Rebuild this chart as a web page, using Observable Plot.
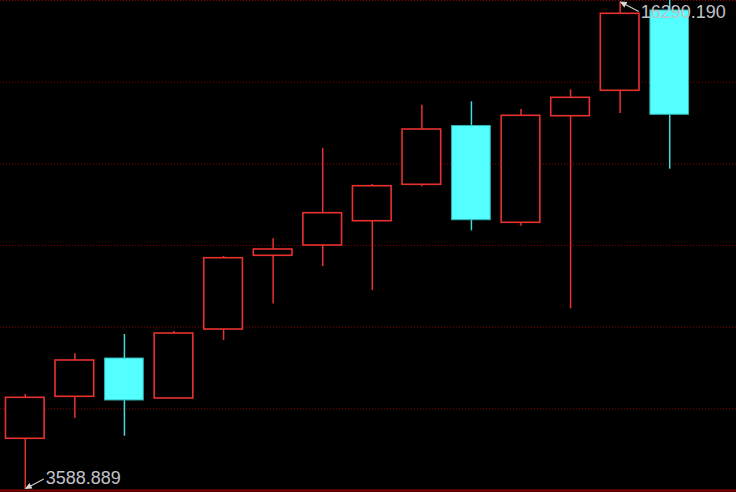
<!DOCTYPE html>
<html>
<head>
<meta charset="utf-8">
<script src="https://cdn.jsdelivr.net/npm/d3@7"></script>
<script src="https://cdn.jsdelivr.net/npm/@observablehq/plot@0.6"></script>
<style>
  html, body { margin: 0; padding: 0; background: #000; overflow: hidden; }
  #chart svg { display: block; }
</style>
</head>
<body>
<div id="chart"></div>
<script>
// ---- data ----
const periods = [1, 2, 3, 4, 5, 6, 7, 8, 9, 10, 11, 12, 13, 14];
const open  = [4910, 6004, 7002, 5960, 7757, 9678, 9946, 10579, 11528, 13060, 10538, 13315, 13977, 16069];
const close = [5978, 6950, 5908, 7653, 9615, 9842, 10788, 11491, 12968, 10605, 13325, 13794, 15983, 13351];
const high  = [6064, 7124, 7627, 7705, 9660, 10123, 12473, 11535, 13601, 13690, 13489, 14003, 16290.19, 16329];
const low   = [3588.889, 5447, 4978, 5955, 7471, 8422, 9399, 8774, 11475, 10329, 10449, 8297, 13385, 11934];

// visible price range of the panel and its horizontal grid levels
const yDomain = [3562.8, 16329.3];
const gridLevels = [5690.55, 7818.3, 9946.05, 12073.8, 14201.55, 16329.3];

// max / min markers
const markPeriods = [13, 1];
const markValues = [16290.19, 3588.889];
const markLabels = ["16290.190", "3588.889"];
const markSides = ["top", "bottom"];

// ---- build table ----
const candles = periods.map((p, i) => ({
  p, open: open[i], close: close[i], high: high[i], low: low[i], up: close[i] >= open[i]
}));
const ups = candles.filter(d => d.up);
const downs = candles.filter(d => !d.up);
const marks = markPeriods.map((p, i) => ({p, value: markValues[i], label: markLabels[i], side: markSides[i]}));

const RED = "#e8322f";
const CYAN = "#54ffff";
const CYAN_EDGE = "#2fb2b2";
const CYAN_WICK = "#45d9d9";
const GRID = "#8a0000";

function annotations(index, scales) {
  const x = scales.x, y = scales.y;
  const half = x.bandwidth ? x.bandwidth() / 2 : 0;
  const g = d3.create("svg:g");
  for (const m of marks) {
    const px = x(m.p) + half;
    const py = y(m.value);
    const s = m.side === "top" ? 1 : -1;
    const ex = px + 19, ey = py + 10 * s;
    g.append("line")
      .attr("x1", px + 2).attr("y1", py + 1 * s)
      .attr("x2", ex).attr("y2", ey)
      .attr("stroke", "#c8c8c8").attr("stroke-width", 1.2);
    const dx = px - ex, dy = py - ey, len = Math.hypot(dx, dy);
    const ux = dx / len, uy = dy / len;
    const hl = 7, hw = 3.2;
    const bx = px - ux * hl, by = py - uy * hl;
    g.append("polygon")
      .attr("points", `${px},${py} ${bx - uy * hw},${by + ux * hw} ${bx + uy * hw},${by - ux * hw}`)
      .attr("fill", "#d8d8d8");
    g.append("text")
      .attr("x", px + 21)
      .attr("y", m.side === "top" ? py + 16 : py - 5)
      .attr("text-anchor", "start")
      .attr("fill", "#c0c2c8")
      .attr("font-family", "'Liberation Sans', Arial, sans-serif")
      .attr("font-size", 18)
      .text(m.label);
  }
  return g.node();
}

const chart = Plot.plot({
  width: 736,
  height: 492,
  marginTop: 0,
  marginLeft: 0,
  marginRight: 0,
  marginBottom: 2,
  style: {background: "#000"},
  x: {type: "band", domain: periods, range: [0, 694], paddingInner: 0.22, paddingOuter: 0.11, round: false, axis: null},
  y: {domain: yDomain, axis: null},
  marks: [
    Plot.ruleY(gridLevels, {stroke: GRID, strokeWidth: 1, strokeDasharray: "1,2"}),
    Plot.ruleY([yDomain[0]], {stroke: "#8a0000", strokeWidth: 2}),
    Plot.ruleX(ups, {x: "p", y1: "low", y2: "high", stroke: RED, strokeWidth: 1.5}),
    Plot.ruleX(downs, {x: "p", y1: "low", y2: "high", stroke: CYAN_WICK, strokeWidth: 1.5}),
    Plot.barY(ups, {x: "p", y1: "open", y2: "close", fill: "#000", stroke: RED, strokeWidth: 1.6}),
    Plot.barY(downs, {x: "p", y1: "open", y2: "close", fill: CYAN, stroke: CYAN_EDGE, strokeWidth: 1}),
    annotations
  ]
});
document.getElementById("chart").appendChild(chart);
</script>
</body>
</html>
